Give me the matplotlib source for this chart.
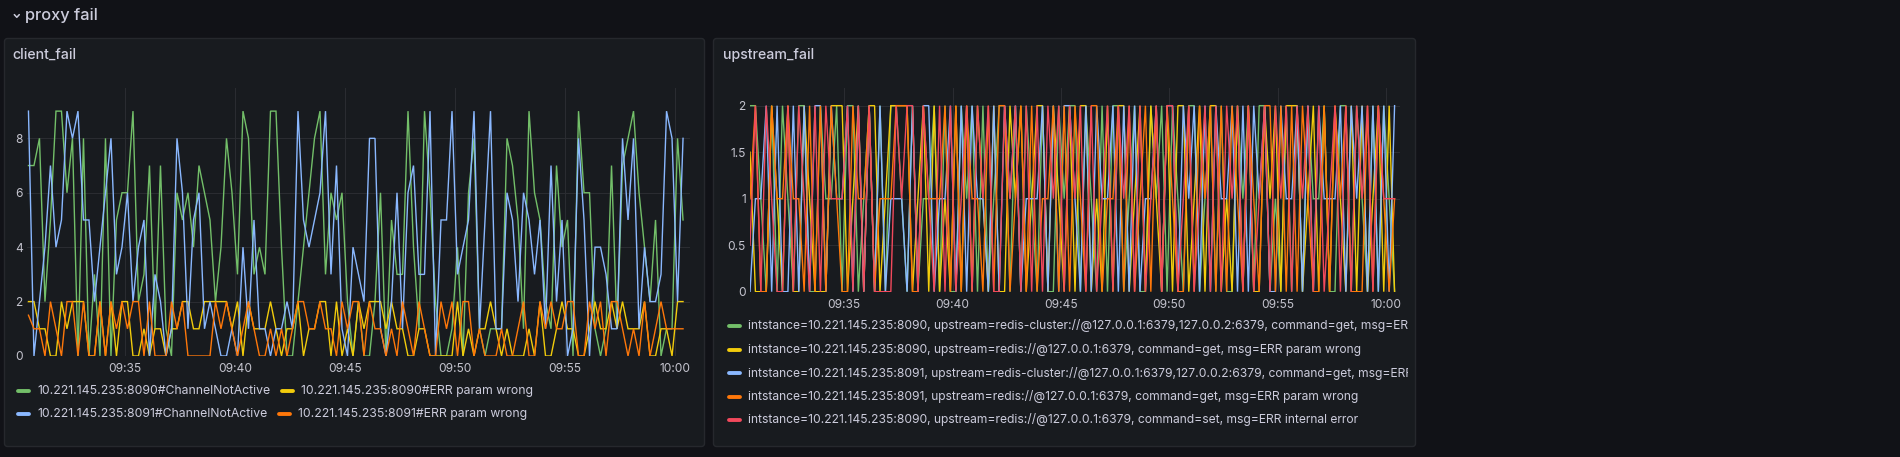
import matplotlib
matplotlib.use('Agg')
import matplotlib.pyplot as plt
import matplotlib.dates as mdates
from matplotlib.patches import FancyBboxPatch
from matplotlib.ticker import FuncFormatter
import pandas as pd

plt.rcParams['font.family'] = ['Inter', 'DejaVu Sans']

W, H = 1900, 457

# ---------------- data ----------------
section_title = "proxy fail"
client_title = "client_fail"
upstream_title = "upstream_fail"

client_start = "2023-01-01 09:30:37"
upstream_start = "2023-01-01 09:30:39"
step = "15s"

client_labels = [
    "10.221.145.235:8090#ChannelNotActive",
    "10.221.145.235:8090#ERR param wrong",
    "10.221.145.235:8091#ChannelNotActive",
    "10.221.145.235:8091#ERR param wrong",
]

green_8090_channel = [
    7, 7, 8, 2, 5, 9, 9, 6, 8, 0, 8, 0, 3, 0, 8, 0, 5, 6, 6, 9,
    2, 3, 7, 1, 7, 1, 0, 6, 5, 6, 4, 7, 6, 5, 2, 4, 8, 6, 3,
    9, 8, 3, 4, 3, 9, 9, 4, 0, 0, 2, 4, 6, 8, 9, 3, 6, 5, 6, 2,
    0, 2, 0, 0, 2, 6, 0, 5, 3, 3, 9, 4, 1, 9, 6, 2, 0, 0, 1, 4, 0,
    6, 8, 1, 0, 1, 1, 1, 8, 7, 5, 1, 9, 6, 5, 2, 1, 7, 4, 5, 0,
    9, 6, 6, 1, 0, 1, 7, 1, 7, 8, 9, 6, 4, 2, 5, 0, 1, 1, 8, 5,
]
yellow_8090_err = [
    2, 2, 1, 1, 0, 0, 2, 1, 2, 2, 2, 0, 0, 2, 0, 2, 0, 2, 2, 0,
    0, 1, 0, 1, 1, 0, 1, 1, 2, 2, 1, 1, 2, 2, 2, 2, 2, 1, 2,
    0, 2, 1, 1, 1, 2, 1, 0, 1, 1, 2, 0, 1, 1, 2, 2, 0, 2, 0, 1,
    0, 2, 1, 2, 2, 2, 1, 2, 1, 1, 0, 0, 1, 1, 0, 0, 0, 0, 0, 2, 0,
    1, 0, 1, 1, 2, 1, 0, 1, 0, 0, 0, 1, 0, 2, 0, 0, 1, 2, 1, 1,
    0, 0, 1, 2, 1, 1, 2, 1, 2, 1, 1, 1, 2, 0, 0, 1, 1, 0, 2, 2,
]
blue_8091_channel = [
    9, 0, 2, 4, 7, 4, 5, 9, 8, 9, 5, 5, 2, 4, 6, 8, 3, 4, 6, 2,
    4, 5, 0, 3, 2, 0, 1, 8, 6, 1, 5, 6, 1, 2, 1, 0, 0, 1, 0,
    4, 1, 5, 1, 1, 0, 1, 1, 2, 1, 9, 5, 4, 5, 6, 9, 3, 7, 1, 0,
    4, 3, 2, 8, 8, 1, 0, 2, 6, 1, 6, 7, 3, 3, 9, 0, 5, 5, 9, 3, 4,
    5, 9, 1, 5, 9, 1, 1, 6, 5, 2, 6, 5, 3, 5, 1, 7, 2, 5, 0, 1,
    8, 5, 0, 4, 4, 3, 1, 1, 8, 5, 8, 1, 4, 2, 2, 3, 9, 8, 2, 8,
]
orange_8091_err = [
    1.5, 1, 1, 0, 2, 1, 0, 2, 2, 0, 2, 0, 0, 2, 0, 2, 1, 2, 1, 2,
    2, 0, 2, 0, 0, 0, 2, 1, 2, 0, 0, 0, 0, 0, 2, 1, 2, 1, 0,
    1, 2, 1, 0, 0, 1, 0, 1, 0, 1, 2, 2, 1, 1, 2, 1, 1, 0, 2, 1,
    2, 2, 0, 2, 1, 1, 0, 1, 0, 2, 1, 0, 2, 1, 0, 0, 2, 1, 2, 0, 2,
    2, 0, 1, 0, 0, 0, 1, 0, 0, 1, 2, 0, 0, 2, 1, 2, 1, 1, 2, 2,
    0, 0, 2, 1, 2, 0, 2, 2, 1, 0, 1, 0, 2, 0, 1, 2, 1, 1, 1, 1,
]
client_series = [green_8090_channel, yellow_8090_err, blue_8091_channel, orange_8091_err]
client_colors = ['#73BF69', '#F2CC0C', '#8AB8FF', '#FF780A']

upstream_labels = [
    "intstance=10.221.145.235:8090, upstream=redis-cluster://@127.0.0.1:6379,127.0.0.2:6379, command=get, msg=ERR internal error",
    "intstance=10.221.145.235:8090, upstream=redis://@127.0.0.1:6379, command=get, msg=ERR param wrong",
    "intstance=10.221.145.235:8091, upstream=redis-cluster://@127.0.0.1:6379,127.0.0.2:6379, command=get, msg=ERR internal error",
    "intstance=10.221.145.235:8091, upstream=redis://@127.0.0.1:6379, command=get, msg=ERR param wrong",
    "intstance=10.221.145.235:8090, upstream=redis://@127.0.0.1:6379, command=set, msg=ERR internal error",
]
up_green = [
    2, 2, 1, 0, 2, 0, 2, 1, 0, 2, 2, 0, 0, 2, 1, 1, 2, 0, 2, 2,
    0, 1, 2, 0, 2, 0, 2, 2, 1, 0, 2, 0, 1, 1, 2, 0, 2, 0, 0, 2,
    1, 2, 0, 2, 0, 1, 2, 2, 0, 2, 0, 2, 1, 0, 2, 0, 0, 2, 1, 2,
    2, 0, 2, 1, 0, 2, 0, 2, 2, 0, 1, 2, 0, 0, 2, 1, 2, 0, 2, 1,
    0, 2, 2, 0, 1, 2, 0, 2, 0, 0, 2, 1, 2, 0, 2, 2, 0, 1, 0, 2,
    0, 2, 0, 2, 1, 1, 2, 0, 0, 2, 2, 0, 2, 1, 0, 2, 0, 2, 1, 0,
]
up_yellow = [
    1.5, 0, 0, 0, 2, 1, 0, 2, 0, 0, 2, 1, 0, 0, 0, 2, 2, 2, 0, 1,
    2, 0, 2, 2, 0, 1, 2, 2, 2, 2, 0, 1, 2, 0, 2, 0, 1, 0, 2, 0,
    2, 0, 2, 1, 0, 2, 0, 0, 2, 1, 2, 0, 1, 2, 2, 0, 2, 1, 0, 2,
    0, 2, 2, 0, 1, 0, 2, 0, 2, 2, 0, 1, 2, 0, 2, 1, 0, 2, 0, 2,
    2, 0, 1, 2, 0, 2, 2, 0, 1, 0, 2, 0, 2, 0, 0, 2, 1, 2, 0, 2,
    2, 2, 0, 1, 2, 0, 2, 0, 2, 1, 0, 2, 0, 2, 0, 1, 2, 0, 2, 0,
]
up_blue = [
    0, 1, 1, 2, 0, 2, 0, 0, 2, 0, 2, 0, 2, 2, 0, 2, 1, 1, 2, 0,
    2, 0, 2, 0, 2, 0, 1, 1, 1, 0, 2, 0, 2, 2, 0, 1, 1, 2, 0, 2,
    0, 2, 1, 1, 0, 2, 0, 2, 1, 2, 0, 1, 1, 1, 2, 0, 2, 0, 2, 2,
    1, 0, 2, 0, 2, 1, 1, 2, 0, 2, 0, 2, 0, 1, 1, 2, 0, 2, 2, 0,
    2, 1, 2, 0, 2, 0, 2, 1, 1, 2, 0, 2, 0, 2, 1, 2, 0, 0, 2, 1,
    1, 2, 0, 2, 0, 2, 1, 1, 1, 2, 0, 2, 1, 2, 0, 2, 0, 2, 0, 2,
]
up_orange = [
    1, 2, 0, 0, 2, 1, 1, 2, 1, 1, 0, 2, 0, 2, 0, 2, 1, 0, 0, 2,
    1, 1, 2, 0, 1, 1, 1, 2, 2, 2, 0, 0, 2, 1, 1, 1, 2, 0, 2, 0,
    2, 1, 1, 0, 2, 0, 2, 2, 0, 1, 2, 0, 2, 0, 1, 1, 2, 0, 2, 0,
    2, 1, 0, 2, 2, 0, 1, 1, 2, 0, 2, 0, 1, 2, 0, 2, 0, 2, 1, 0,
    0, 2, 0, 2, 1, 2, 0, 2, 0, 2, 1, 0, 2, 1, 0, 2, 2, 0, 2, 0,
    2, 0, 2, 1, 0, 0, 2, 0, 2, 1, 2, 0, 0, 0, 2, 0, 2, 1, 0, 1,
]
up_red = [
    0.5, 2, 0, 2, 1, 0, 0, 2, 0, 2, 1, 0, 2, 0, 2, 1, 1, 1, 2, 0,
    2, 0, 2, 0, 0, 0, 0, 2, 1, 2, 2, 0, 2, 1, 0, 2, 0, 2, 0, 1,
    2, 0, 2, 1, 2, 0, 0, 2, 1, 2, 0, 2, 0, 2, 0, 2, 1, 2, 0, 2,
    1, 2, 0, 2, 0, 1, 2, 0, 2, 1, 2, 0, 2, 0, 1, 2, 0, 2, 2, 0,
    1, 2, 0, 1, 2, 0, 2, 0, 2, 1, 2, 0, 2, 0, 1, 2, 0, 2, 1, 2,
    0, 2, 1, 2, 0, 2, 0, 1, 2, 0, 2, 0, 2, 1, 2, 0, 2, 1, 1, 1,
]
upstream_series = [up_green, up_yellow, up_blue, up_orange, up_red]
upstream_colors = ['#73BF69', '#F2CC0C', '#8AB8FF', '#FF780A', '#F2495C']

client_yticks = [0, 2, 4, 6, 8]
upstream_yticks = [0, 0.5, 1, 1.5, 2]

# ---------------- style ----------------
PAGE_BG = '#111217'
PANEL_BG = '#181b1f'
BORDER = '#26282d'
GRID = '#2a2c31'
TEXT = '#ccccdc'
TICK = '#c4c4ce'

fig = plt.figure(figsize=(W / 100, H / 100), dpi=100, facecolor=PAGE_BG)
bg = fig.add_axes([0, 0, 1, 1])
bg.set_xlim(0, W)
bg.set_ylim(H, 0)
bg.axis('off')
bg.set_zorder(0)

for x0, x1 in [(4, 705), (713, 1416)]:
    bg.add_patch(FancyBboxPatch((x0 + 0.5, 38.5), x1 - x0 - 1, 408,
                                boxstyle='round,pad=0,rounding_size=3',
                                fc=PANEL_BG, ec=BORDER, lw=1))

# section header
bg.plot([14.3, 16.8, 19.3], [14.6, 17.3, 14.6], color=TEXT, lw=1.1,
        solid_capstyle='round', solid_joinstyle='round')
bg.text(25, 15.5, section_title, color=TEXT, fontsize=11.8, fontweight='medium',
        va='center', ha='left')

bg.text(12, 55, client_title, color=TEXT, fontsize=10.2, fontweight='medium',
        va='center', ha='left')
bg.text(723, 55, upstream_title, color=TEXT, fontsize=10.2, fontweight='medium',
        va='center', ha='left')


def style_axes(ax, yticks, ylim, xlim, fmt):
    ax.set_facecolor('none')
    for s in ax.spines.values():
        s.set_visible(False)
    ax.set_ylim(*ylim)
    ax.set_xlim(pd.Timestamp(xlim[0]), pd.Timestamp(xlim[1]))
    ax.set_yticks(yticks)
    ax.yaxis.set_major_formatter(FuncFormatter(fmt))
    ax.xaxis.set_major_locator(mdates.MinuteLocator(byminute=range(0, 60, 5)))
    ax.xaxis.set_major_formatter(mdates.DateFormatter('%H:%M'))
    ax.grid(True, color=GRID, lw=0.8)
    ax.set_axisbelow(True)
    ax.tick_params(axis='both', length=0, labelsize=8.6, colors=TICK)
    ax.tick_params(axis='x', pad=5)
    ax.tick_params(axis='y', pad=3)


ax1 = fig.add_axes([27 / W, 1 - 356 / H, 663 / W, 268 / H])
style_axes(ax1, client_yticks, (0, 9.85),
           ("2023-01-01 09:30:33", "2023-01-01 10:00:41"),
           lambda v, p: f"{v:g}")
t1 = pd.date_range(client_start, periods=len(green_8090_channel), freq=step)
for vals, col in zip(client_series, client_colors):
    ax1.plot(t1, vals, color=col, lw=1.0, solid_joinstyle='miter')

ax2 = fig.add_axes([750 / W, 1 - 291.7 / H, 650 / W, 203.7 / H])
style_axes(ax2, upstream_yticks, (0, 2.19),
           ("2023-01-01 09:30:39", "2023-01-01 10:00:39"),
           lambda v, p: f"{v:g}")
t2 = pd.date_range(upstream_start, periods=len(up_green), freq=step)
for vals, col in zip(upstream_series, upstream_colors):
    ax2.plot(t2, vals, color=col, lw=1.0, solid_joinstyle='miter')

# ---------------- legends ----------------
fig.canvas.draw()
renderer = fig.canvas.get_renderer()


def legend_item(ax, x, y, label, color, size, clip=False):
    ax.plot([x + 1.5, x + 12.5], [y, y], color=color, lw=2.8, solid_capstyle='round',
            clip_on=clip)
    t = ax.text(x + 21, y, label, color=TEXT, fontsize=size, va='center', ha='left',
                clip_on=clip)
    bb = t.get_window_extent(renderer=renderer)
    return bb.x1


# client legend: two rows of two items
rows = [(391, [0, 1]), (414, [2, 3])]
for y, idxs in rows:
    x = 16
    for k in idxs:
        xe = legend_item(bg, x, y, client_labels[k], client_colors[k], 8.8)
        x = xe + 10

# upstream legend, clipped to panel
leg2 = fig.add_axes([720 / W, 1 - 440 / H, (1408 - 720) / W, (440 - 314) / H])
leg2.set_xlim(720, 1408)
leg2.set_ylim(440, 314)
leg2.axis('off')
for k, y in enumerate([326, 349.5, 373, 396.5, 420]):
    legend_item(leg2, 727, y, upstream_labels[k], upstream_colors[k], 8.7, clip=True)

fig.savefig('out.png', dpi=100, facecolor=PAGE_BG)
